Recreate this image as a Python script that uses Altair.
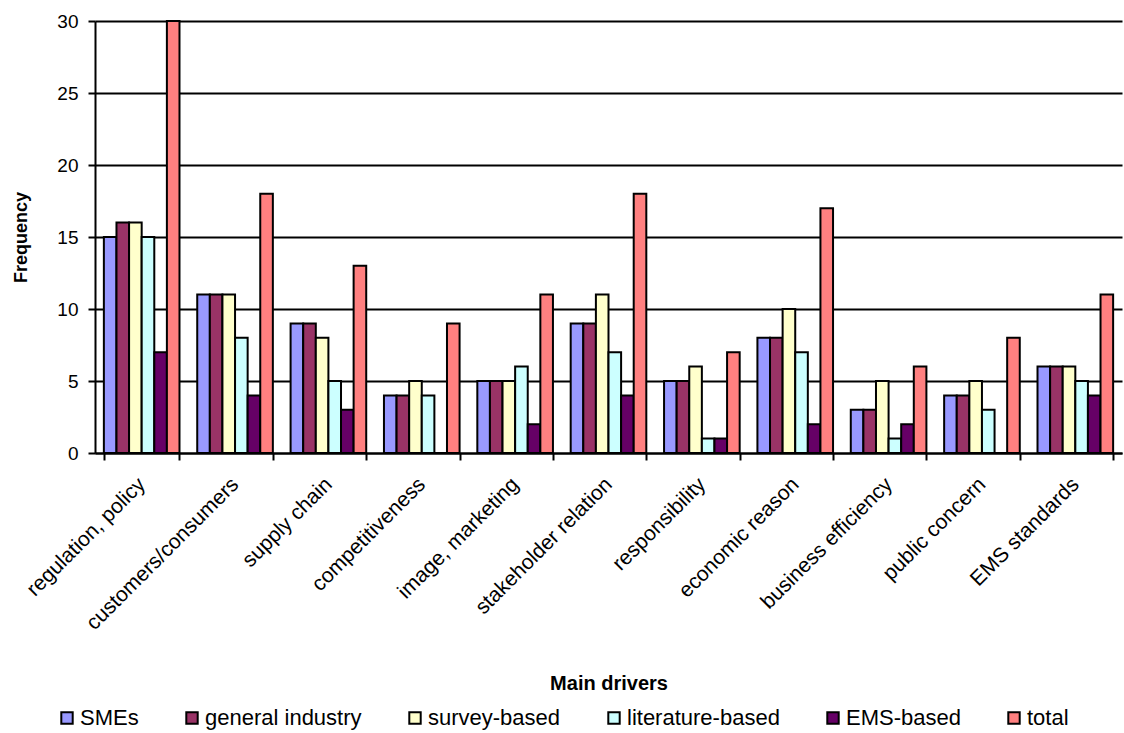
import altair as alt
import pandas as pd

# Frequency of each main driver, split by source group
drivers = [
    "regulation, policy", "customers/consumers", "supply chain",
    "competitiveness", "image, marketing", "stakeholder relation",
    "responsibility", "economic reason", "business efficiency",
    "public concern", "EMS standards",
]
series = ["SMEs", "general industry", "survey-based",
          "literature-based", "EMS-based", "total"]
colors = ["#9999ff", "#993366", "#ffffcc", "#ccffff", "#660066", "#ff8080"]

smes = [15, 11, 9, 4, 5, 9, 5, 8, 3, 4, 6]
general_industry = [16, 11, 9, 4, 5, 9, 5, 8, 3, 4, 6]
survey_based = [16, 11, 8, 5, 5, 11, 6, 10, 5, 5, 6]
literature_based = [15, 8, 5, 4, 6, 7, 1, 7, 1, 3, 5]
ems_based = [7, 4, 3, 0, 2, 4, 1, 2, 2, 0, 4]
total = [30, 18, 13, 9, 11, 18, 7, 17, 6, 8, 11]

values = [smes, general_industry, survey_based, literature_based, ems_based, total]
rows = []
for name, vals in zip(series, values):
    for d, v in zip(drivers, vals):
        rows.append({"driver": d, "series": name, "value": v})
df = pd.DataFrame(rows)

FONT = "Liberation Sans"

chart = alt.Chart(df).mark_bar(stroke="black", strokeWidth=2).encode(
    x=alt.X(
        "driver:N", sort=drivers,
        scale=alt.Scale(paddingInner=0.19, paddingOuter=0.095),
        axis=alt.Axis(
            title="Main drivers", labelAngle=-45, labelFontSize=21,
            labelFont=FONT, labelColor="black", labelPadding=21,
            labelAlign="right", labelBaseline="middle", labelLimit=0,
            tickBand="extent", tickColor="black", tickWidth=2, tickSize=7,
            domainColor="black", domainWidth=2, grid=False,
            titleFont=FONT, titleFontSize=20, titleFontWeight="bold",
            titleColor="black", titleY=230, titleBaseline="middle",
        ),
    ),
    xOffset=alt.XOffset("series:N", sort=series,
                        scale=alt.Scale(paddingInner=0, paddingOuter=0)),
    y=alt.Y(
        "value:Q",
        scale=alt.Scale(domain=[0, 30], nice=False),
        axis=alt.Axis(
            title="Frequency", values=[0, 5, 10, 15, 20, 25, 30],
            labelFont=FONT, labelFontSize=19, labelColor="black",
            labelPadding=10, tickColor="black", tickWidth=2, tickSize=7,
            domainColor="black", domainWidth=2,
            gridColor="black", gridWidth=2, gridOpacity=1,
            titleFont=FONT, titleFontSize=18, titleFontWeight="bold",
            titleColor="black", titlePadding=26,
        ),
    ),
    color=alt.Color(
        "series:N", sort=series,
        scale=alt.Scale(domain=series, range=colors),
        legend=alt.Legend(
            title=None, orient="none", direction="horizontal",
            legendX=-39, legendY=686,
            symbolType="square", symbolSize=130, symbolStrokeColor="black",
            symbolStrokeWidth=2, symbolOpacity=1,
            labelFont=FONT, labelFontSize=22, labelColor="black",
            labelOffset=2, columnPadding=42,
        ),
    ),
).properties(
    width=1027, height=432,
    autosize=alt.AutoSizeParams(type="none"),
    padding={"left": 95, "top": 21, "right": 2, "bottom": 280},
).configure_view(stroke=None)

chart.save("out.html", embed_options={"renderer": "svg", "actions": False})
